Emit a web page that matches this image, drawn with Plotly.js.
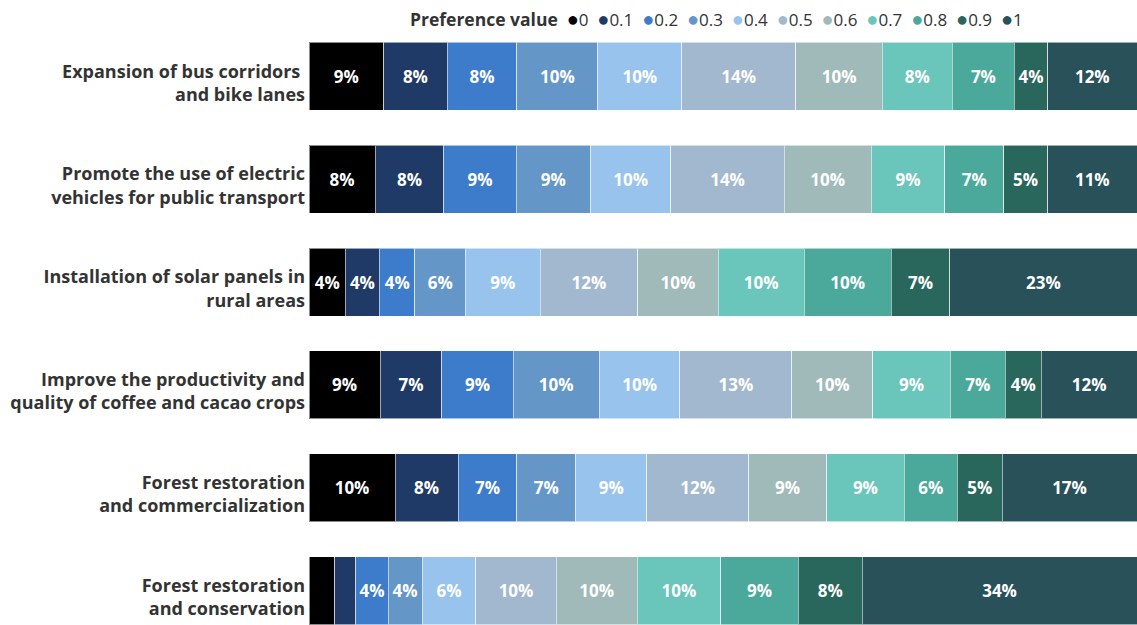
<!DOCTYPE html>
<html>
<head>
<meta charset="utf-8">
<script src="https://cdn.plot.ly/plotly-3.0.1.min.js"></script>
<style>
html,body{margin:0;padding:0;overflow:hidden;background:#fff;}
#chart{width:1137px;height:660px;}
</style>
</head>
<body>
<div id="chart"></div>
<script>
// Row categories (top to bottom)
const categories = [
  "Expansion of bus corridors <br>and bike lanes",
  "Promote the use of electric<br>vehicles for public transport",
  "Installation of solar panels in<br>rural areas",
  "Improve the productivity and<br>quality of coffee and cacao crops",
  "Forest restoration<br>and commercialization",
  "Forest restoration<br>and conservation"
];

// Preference values (series)
const prefValues = ["0","0.1","0.2","0.3","0.4","0.5","0.6","0.7","0.8","0.9","1"];
const prefColors = ["#000000","#1f3a66","#3d7bcb","#6496c7","#97c3ec","#a2b8ce","#a0bab9","#6ac5ba","#4aa99a","#29665c","#285159"];

// Share (%) per row, in order of preference value 0 .. 1
const rowBus      = [9.0, 7.7, 8.4, 9.8, 10.1, 13.8, 10.45, 8.45, 7.5, 4.0, 10.8];
const rowElectric = [8.0, 8.3, 8.7, 9.0, 9.7, 13.7, 10.5, 8.9, 7.1, 5.3, 10.8];
const rowSolar    = [4.4, 4.1, 4.3, 6.1, 9.0, 11.8, 9.7, 10.4, 10.5, 7.1, 22.6];
const rowCoffee   = [8.6, 7.45, 8.6, 10.4, 9.75, 13.5, 9.8, 9.35, 6.65, 4.35, 11.55];
const rowForestC  = [10.4, 7.6, 7.1, 7.1, 8.6, 12.3, 9.4, 9.4, 6.4, 5.4, 16.3];
const rowForestCo = [3.1, 2.55, 3.9, 4.1, 6.5, 9.7, 9.8, 10.05, 9.4, 7.7, 33.2];

// Data labels shown on the bars (rounded %, null = not shown)
const lblBus      = [9, 8, 8, 10, 10, 14, 10, 8, 7, 4, 12];
const lblElectric = [8, 8, 9, 9, 10, 14, 10, 9, 7, 5, 11];
const lblSolar    = [4, 4, 4, 6, 9, 12, 10, 10, 10, 7, 23];
const lblCoffee   = [9, 7, 9, 10, 10, 13, 10, 9, 7, 4, 12];
const lblForestC  = [10, 8, 7, 7, 9, 12, 9, 9, 6, 5, 17];
const lblForestCo = [null, null, 4, 4, 6, 10, 10, 10, 9, 8, 34];

const rows = [rowBus, rowElectric, rowSolar, rowCoffee, rowForestC, rowForestCo];
const lbls = [lblBus, lblElectric, lblSolar, lblCoffee, lblForestC, lblForestCo];

const FONT = "'Open Sans', 'Noto Sans', sans-serif";

const traces = prefValues.map((p, i) => ({
  type: 'bar',
  orientation: 'h',
  name: p,
  y: categories,
  x: rows.map(r => r[i]),
  text: lbls.map(l => l[i] == null ? '' : l[i] + '%'),
  textposition: 'inside',
  insidetextanchor: 'middle',
  textangle: 0,
  textfont: {family: FONT, size: 17, color: '#ffffff', weight: 'bold'},
  marker: {color: prefColors[i], line: {color: 'rgba(255,255,255,0.55)', width: 1}},
  hoverinfo: 'x+y+name',
  showlegend: false
}));

// Invisible helper trace so the label axis (y2) is drawn
traces.push({
  type: 'scatter', mode: 'markers',
  x: [null], y: [null], yaxis: 'y2',
  showlegend: false, hoverinfo: 'skip'
});

const legendText = '<span style="font-size:17.5px"><b>Preference value</b></span>' + prefValues.map((p, i) =>
  ' &nbsp;<span style="color:' + prefColors[i] + ';font-size:20px">●</span>' + p).join('');

const n = categories.length;
const labelShift = 0.063; // category labels sit slightly below the bar centre

const layout = {
  width: 1137,
  height: 660,
  margin: {l: 309, r: 0, t: 24.5, b: 17.5},
  barmode: 'stack',
  bargap: 0.34,
  paper_bgcolor: '#ffffff',
  plot_bgcolor: '#ffffff',
  uniformtext: {minsize: 17, mode: 'show'},
  xaxis: {range: [0, 100], visible: false, fixedrange: true},
  yaxis: {
    autorange: 'reversed',
    showgrid: false, zeroline: false, showline: false,
    ticks: '', showticklabels: false
  },
  yaxis2: {
    overlaying: 'y',
    side: 'left',
    type: 'linear',
    range: [n - 0.5 - labelShift, -0.5 - labelShift],
    autorange: false,
    tickmode: 'array',
    tickvals: categories.map((c, i) => i),
    ticktext: categories,
    showgrid: false, zeroline: false, showline: false,
    ticks: '',
    ticklabelstandoff: 3,
    tickfont: {family: FONT, size: 18, color: '#333333', weight: 'bold'}
  },
  showlegend: false,
  annotations: [{
    xref: 'paper', yref: 'paper',
    x: (408 - 309) / 828, y: 1.0105,
    xanchor: 'left', yanchor: 'middle',
    showarrow: false,
    text: legendText,
    font: {family: FONT, size: 17, color: '#333333'}
  }]
};

Plotly.newPlot('chart', traces, layout, {displayModeBar: false, staticPlot: true});
</script>
</body>
</html>
